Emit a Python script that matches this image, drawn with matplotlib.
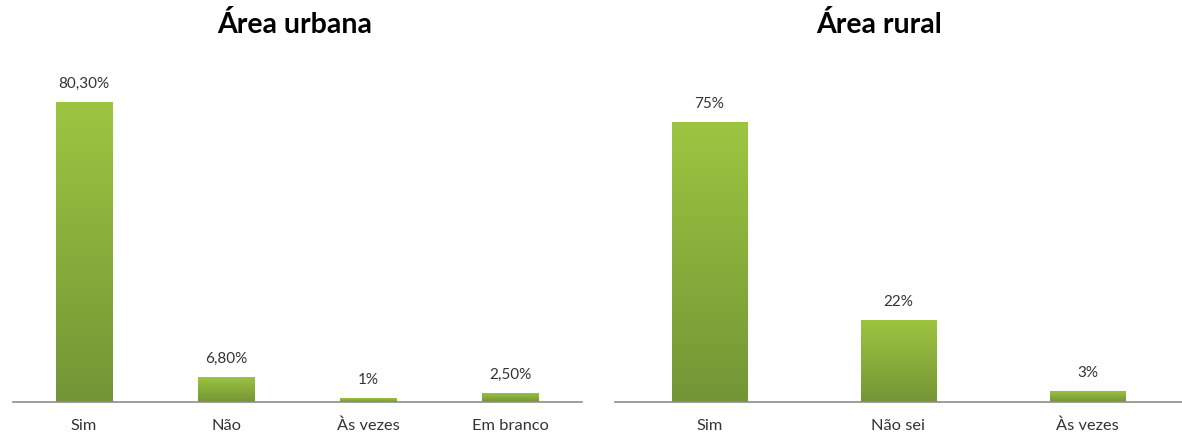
import numpy as np
import matplotlib
matplotlib.use("Agg")
import matplotlib.pyplot as plt
from matplotlib.colors import LinearSegmentedColormap

plt.rcParams['font.family'] = ['Lato', 'DejaVu Sans']

# dados
urbana_cat = ['Sim', 'Não', 'Às vezes', 'Em branco']
urbana_val = [80.3, 6.8, 1.0, 2.5]
urbana_txt = ['80,30%', '6,80%', '1%', '2,50%']

rural_cat = ['Sim', 'Não sei', 'Às vezes']
rural_val = [75, 22, 3]
rural_txt = ['75%', '22%', '3%']

verde = LinearSegmentedColormap.from_list('verde', ['#749536', '#9dc540'])
grad = np.linspace(0, 1, 256).reshape(-1, 1)

fig = plt.figure(figsize=(11.82, 4.34), dpi=100)
ax1 = fig.add_axes([13 / 1182, 1 - 402 / 434, 569 / 1182, 336 / 434])
ax2 = fig.add_axes([615 / 1182, 1 - 402 / 434, 567 / 1182, 336 / 434])


def grafico(ax, cats, vals, txts, titulo, xt):
    n = len(cats)
    barras = ax.bar(range(n), vals, width=0.4, color='none', edgecolor='none')
    # barras com degradê (claro em cima, escuro em baixo)
    for b in barras:
        x0 = b.get_x()
        h = b.get_height()
        im = ax.imshow(grad, extent=[x0, x0 + b.get_width(), 0, h], origin='lower',
                       aspect='auto', cmap=verde, zorder=2)
        im.set_clip_path(b)
    for i, (v, t) in enumerate(zip(vals, txts)):
        ax.annotate(t, (i, v), xytext=(0, 8), textcoords='offset points',
                    ha='center', va='bottom', fontsize=11, color='#333333')
    ax.set_xlim(-0.5, n - 0.5)
    ax.set_ylim(0, 90)
    ax.set_xticks(range(n))
    ax.set_xticklabels(cats, fontsize=11.8, color='#333333')
    ax.tick_params(axis='x', length=0, pad=12)
    ax.set_yticks([])
    for s in ['top', 'right', 'left']:
        ax.spines[s].set_visible(False)
    ax.spines['bottom'].set_color('#8c8c8c')
    ax.spines['bottom'].set_linewidth(1.2)
    fig.text(xt, 1 - 33 / 434, titulo, ha='center', va='baseline',
             fontsize=20.5, fontweight='bold', color='black')


grafico(ax1, urbana_cat, urbana_val, urbana_txt, 'Área urbana', 295 / 1182)
grafico(ax2, rural_cat, rural_val, rural_txt, 'Área rural', 879 / 1182)

fig.savefig('out.png', dpi=100)
